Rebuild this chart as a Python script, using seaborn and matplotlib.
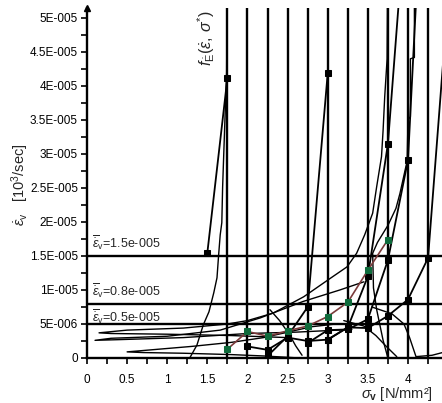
import pandas as pd
import seaborn as sns
import matplotlib.pyplot as plt
from matplotlib.ticker import FixedLocator, MultipleLocator

sns.set_theme(style="white")
plt.rcParams['font.family'] = ['Liberation Sans', 'DejaVu Sans']
plt.rcParams['mathtext.fontset'] = 'custom'
plt.rcParams['mathtext.rm'] = 'Liberation Sans'
plt.rcParams['mathtext.it'] = 'Liberation Sans:italic'
plt.rcParams['mathtext.bf'] = 'Liberation Sans:bold'

SCALE = 1e-5  # all strain rates below are in units of 1e-5 /sec

# stress levels (vertical lines) and reference strain rates (horizontal lines)
stress_levels = [1.75, 2.0, 2.25, 2.5, 2.75, 3.0, 3.25, 3.5, 3.75, 4.0, 4.25]
ref_rates = [1.5, 0.8, 0.5]
ref_labels = ['=1.5e-005', '=0.8e-005', '=0.5e-005']

# f_E curve (green markers, brown line)
fe_x = [1.75, 2.0, 2.25, 2.5, 2.75, 3.0, 3.25, 3.5, 3.75]
fe_y = [0.13, 0.39, 0.32, 0.40, 0.47, 0.61, 0.82, 1.29, 1.74]

# black square-marker series
m1_x = [1.5, 1.75]
m1_y = [1.55, 4.12]
m2_x = [2.25, 2.5, 2.75, 3.0]
m2_y = [0.03, 0.32, 0.75, 4.19]
m3_x = [2.0, 2.25, 2.5, 2.75, 3.0, 3.25, 3.5, 3.75, 4.0]
m3_y = [0.17, 0.12, 0.30, 0.25, 0.27, 0.45, 1.20, 3.15, 7.0]
m4_x = [2.75, 3.0, 3.25, 3.5, 3.75, 4.0, 4.25]
m4_y = [0.22, 0.41, 0.42, 0.57, 1.44, 2.91, 8.7]
m5_x = [3.0, 3.25, 3.5, 3.75, 4.0, 4.25, 4.5]
m5_y = [0.27, 0.45, 0.44, 0.62, 0.86, 1.47, 5.3]

# measured curves (thin lines)
j1_x = [1.28, 1.37, 1.45, 1.52, 1.58, 1.62, 1.64, 1.66, 1.68, 1.69, 1.72, 1.74, 1.745]
j1_y = [0.0, 0.19, 0.49, 0.68, 0.96, 1.18, 1.51, 1.81, 1.99, 2.51, 3.54, 4.2, 5.3]
c1_x = [2.5, 1.8, 1.0, 0.3, 0.15, 0.5, 1.2, 1.75, 2.0, 2.32, 2.7, 3.03, 3.24, 3.36,
        3.46, 3.56, 3.61, 3.67, 3.69, 3.71, 3.74, 3.745]
c1_y = [0.30, 0.33, 0.35, 0.36, 0.37, 0.41, 0.44, 0.50, 0.55, 0.66, 0.90, 1.17, 1.34, 1.54,
        1.81, 2.13, 2.52, 2.96, 3.35, 3.84, 4.4, 5.3]
c2_x = [3.3, 2.6, 2.0, 1.2, 0.4, 0.10, 0.3, 1.0, 1.66, 2.16, 2.69, 3.15, 3.45]
c2_y = [0.42, 0.38, 0.36, 0.30, 0.27, 0.26, 0.29, 0.32, 0.41, 0.59, 0.83, 1.0, 1.12]
c3_x = [2.65, 2.2, 1.8, 1.2, 0.7, 0.5, 0.8, 1.3, 1.8, 2.2, 2.5, 2.8, 3.1]
c3_y = [0.0, 0.03, 0.05, 0.07, 0.08, 0.09, 0.12, 0.17, 0.23, 0.30, 0.38, 0.46, 0.5]
c4_x = [4.08, 4.08, 4.03, 4.03, 4.0, 3.99, 3.9, 3.85, 3.75, 3.62, 3.56, 3.57, 3.61, 3.69, 3.75]
c4_y = [5.3, 4.42, 4.4, 3.55, 3.5, 2.9, 2.42, 2.2, 1.95, 1.7, 1.54, 1.03, 0.71, 0.26, 0.0]
c5_x = [3.2, 3.45, 3.6, 3.73, 3.86]
c5_y = [0.55, 0.47, 0.33, 0.17, 0.02]
c6_x = [3.55, 3.8, 3.95, 4.02, 4.1, 4.3, 4.43]
c6_y = [0.75, 0.65, 0.5, 0.3, 0.02, 0.04, 0.08]
c7_x = [2.28, 2.4, 2.52, 2.6, 2.68]
c7_y = [0.71, 0.55, 0.35, 0.18, 0.04]

ytick_vals = [0, 0.5, 1, 1.5, 2, 2.5, 3, 3.5, 4, 4.5, 5]
ytick_labels = ['0', '5E-006', '1E-005', '1.5E-005', '2E-005', '2.5E-005',
                '3E-005', '3.5E-005', '4E-005', '4.5E-005', '5E-005']
xtick_vals = [0, 0.5, 1, 1.5, 2, 2.5, 3, 3.5, 4]
xtick_labels = ['0', '0.5', '1', '1.5', '2', '2.5', '3', '3.5', '4']

fig = plt.figure(figsize=(4.42, 4.03), dpi=100)
ax = fig.add_axes([87 / 442, 45 / 403, 355 / 442, 350 / 403])

for s in stress_levels:
    ax.axvline(s, color='black', lw=1.7, zorder=1)
for r in ref_rates:
    ax.axhline(r * SCALE, color='black', lw=1.7, zorder=1)

thin = [(j1_x, j1_y), (c1_x, c1_y), (c2_x, c2_y), (c3_x, c3_y),
        (c4_x, c4_y), (c5_x, c5_y), (c6_x, c6_y), (c7_x, c7_y)]
for xs, ys in thin:
    sns.lineplot(x=xs, y=[v * SCALE for v in ys], sort=False, estimator=None,
                 color='black', lw=1.0, ax=ax, zorder=2)

for xs, ys in [(m1_x, m1_y), (m2_x, m2_y), (m3_x, m3_y), (m4_x, m4_y), (m5_x, m5_y)]:
    sns.lineplot(x=xs, y=[v * SCALE for v in ys], sort=False, estimator=None,
                 color='black', lw=1.3, marker='s', markersize=5,
                 markeredgecolor='black', ax=ax, zorder=3)

sns.lineplot(x=fe_x, y=[v * SCALE for v in fe_y], sort=False, estimator=None,
             color='#7a3b3b', lw=1.2, marker='s', markersize=5,
             markerfacecolor='#0f6b3c', markeredgecolor='#0f6b3c', ax=ax, zorder=4)

ax.set_xlim(0, 4.424)
ax.set_ylim(0, 5.147 * SCALE)
ax.xaxis.set_major_locator(FixedLocator(xtick_vals))
ax.set_xticklabels(xtick_labels)
ax.xaxis.set_minor_locator(MultipleLocator(0.25))
ax.yaxis.set_major_locator(FixedLocator([v * SCALE for v in ytick_vals]))
ax.set_yticklabels(ytick_labels)
ax.yaxis.set_minor_locator(MultipleLocator(0.25 * SCALE))
ax.tick_params(which='both', direction='out', length=4.5, width=1.2, color='black',
               labelsize=8.5, labelcolor='black', left=True, bottom=True, pad=2)
ax.tick_params(axis='x', pad=7)
for side in ['top', 'right']:
    ax.spines[side].set_visible(False)
for side in ['left', 'bottom']:
    ax.spines[side].set_linewidth(1.7)
    ax.spines[side].set_color('black')
ax.grid(False)
ax.plot([0], [1], marker='^', color='black', ms=5, transform=ax.transAxes, clip_on=False)

lab_y = [1.69, 0.99, 0.60]
for r, txt, ly in zip(ref_rates, ref_labels, lab_y):
    ax.text(0.06, ly * SCALE, r'$\overline{\dot{\varepsilon}}_{\mathrm{v}}$' + txt,
            fontsize=9, va='center', ha='left', zorder=5)

fig.text(20 / 442, 1 - 185 / 403, r'$\dot{\varepsilon}_{\mathrm{v}}$   [10$^3$/sec]',
         rotation=90, ha='center', va='center', fontsize=10.5)
fig.text(433 / 442, 1 - 394 / 403, r'$\sigma_{\mathbf{v}}$ [N/mm²]',
         ha='right', va='center', fontsize=10.5)
fig.text(206 / 442, 1 - 38 / 403, r'$f_{\dot{\mathrm{E}}}(\dot{\varepsilon},\,\sigma^{*})$',
         rotation=90, ha='center', va='center', fontsize=11.5)

fig.savefig('out.png', dpi=100)
